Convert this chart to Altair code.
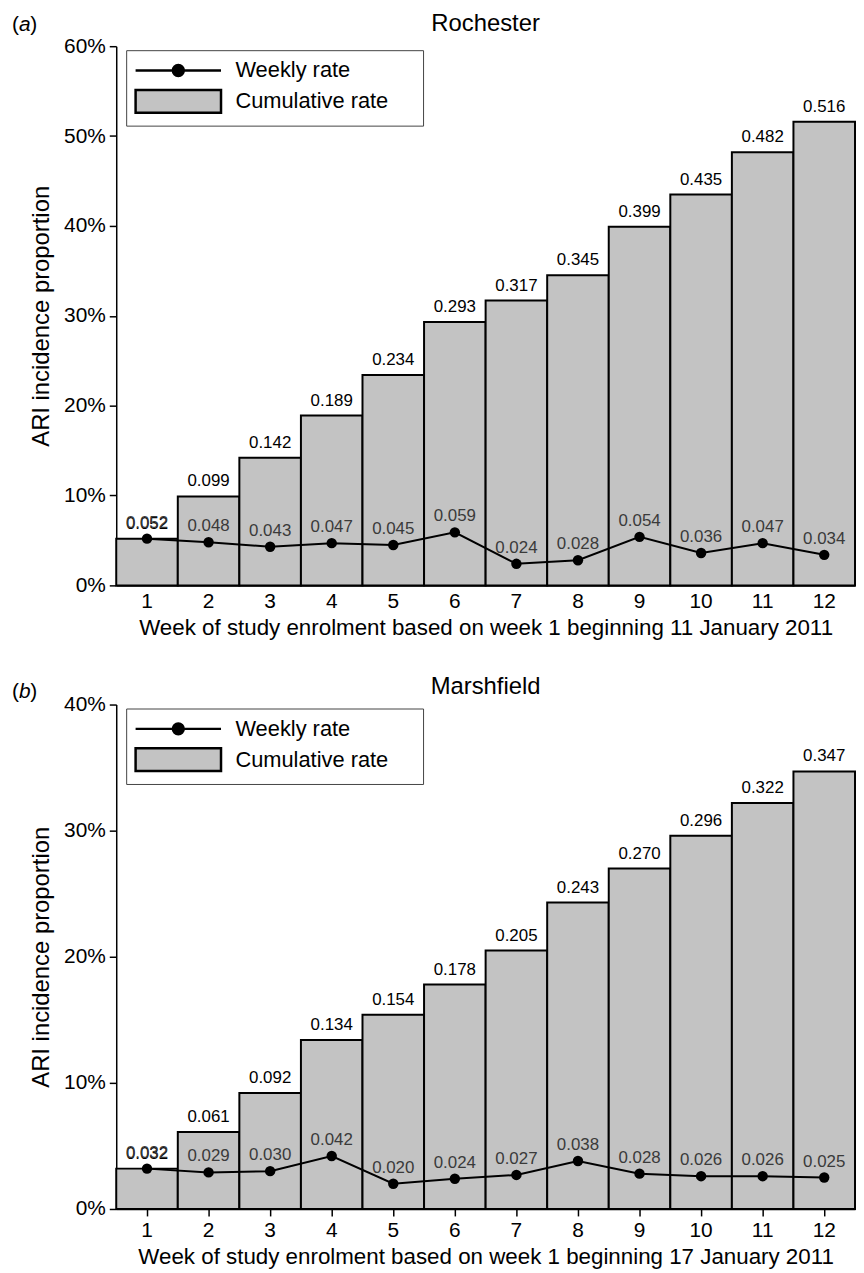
import altair as alt
import pandas as pd

weeks = list(range(1, 13))
roch_cum = [0.052, 0.099, 0.142, 0.189, 0.234, 0.293, 0.317, 0.345, 0.399, 0.435, 0.482, 0.516]
roch_week = [0.052, 0.048, 0.043, 0.047, 0.045, 0.059, 0.024, 0.028, 0.054, 0.036, 0.047, 0.034]
marsh_cum = [0.032, 0.061, 0.092, 0.134, 0.154, 0.178, 0.205, 0.243, 0.270, 0.296, 0.322, 0.347]
marsh_week = [0.032, 0.029, 0.030, 0.042, 0.020, 0.024, 0.027, 0.038, 0.028, 0.026, 0.026, 0.025]
series = ["Weekly rate", "Cumulative rate"]
roch_ticks = [0, 0.1, 0.2, 0.3, 0.4, 0.5, 0.6]
marsh_ticks = [0, 0.1, 0.2, 0.3, 0.4]

FONT = "Liberation Sans"
YTITLE = "ARI incidence proportion"
WIDTH = 744

# legend symbol paths (units of 11px); the zero-length tail widens the legend box
TAIL = " M24.1,0 L24.1,0"
PATH_LINE = ("M-1,0 L6.82,0 M2.41,0 A0.5,0.5 0 1,1 3.41,0 "
             "A0.5,0.5 0 1,1 2.41,0 Z" + TAIL)
PATH_RECT = "M-1,-1.045 L6.82,-1.045 L6.82,1.045 L-1,1.045 Z" + TAIL


def panel(cum, wk, ticks, title, title_dy, letter, letter_dy, xtitle, height, xticks):
    df = pd.DataFrame({"week": weeks, "cum": cum, "weekly": wk})
    ymax = ticks[-1]
    x = alt.X("week:O", title=xtitle,
              scale=alt.Scale(paddingInner=0, paddingOuter=0),
              axis=alt.Axis(labelAngle=0, ticks=xticks, labelPadding=4 if xticks else 5))
    yscale = alt.Scale(domain=[0, ymax], nice=False)
    yaxis = alt.Axis(format=".0%", values=ticks)

    def Y(field):
        return alt.Y(f"{field}:Q", title=YTITLE, scale=yscale, axis=yaxis)

    base = alt.Chart(df)
    bars = base.mark_bar(fill="#c3c3c3", stroke="black", strokeWidth=2).encode(x=x, y=Y("cum"))
    cum_lab = base.mark_text(dy=-15, fontSize=17, font=FONT, color="black").encode(
        x=x, y=Y("cum"), text=alt.Text("cum:Q", format=".3f"))
    line = base.mark_line(color="black", strokeWidth=2).encode(x=x, y=Y("weekly"))
    pts = base.mark_circle(size=110, color="black", opacity=1).encode(x=x, y=Y("weekly"))
    wk_lab = base.mark_text(dy=-16, fontSize=17, font=FONT, color="#3a3a3a").encode(
        x=x, y=Y("weekly"), text=alt.Text("weekly:Q", format=".3f"))

    leg_df = pd.DataFrame({"series": series, "week": [1, 1], "zero": [0, 0]})
    leg = alt.Legend(title=None, orient="none", legendX=10, legendY=4, padding=8,
                     strokeColor="#444", fillColor="white",
                     symbolSize=484, symbolStrokeWidth=2.5,
                     symbolOpacity=1, labelOffset=77, labelFontSize=22, labelFont=FONT,
                     labelColor="black", rowPadding=3, labelLimit=400)
    dummy = alt.Chart(leg_df).mark_point(filled=True, opacity=0, strokeWidth=2.5).encode(
        x=x, y=Y("zero"),
        shape=alt.Shape("series:N", scale=alt.Scale(domain=series, range=[PATH_LINE, PATH_RECT]), legend=leg),
        fill=alt.Fill("series:N", scale=alt.Scale(domain=series, range=["black", "#c3c3c3"]), legend=leg),
        stroke=alt.Stroke("series:N", scale=alt.Scale(domain=series, range=["black", "black"]), legend=leg),
    )

    lt = pd.DataFrame({"t": [0]})
    ttl = alt.Chart(lt).mark_text(text=title, align="center", baseline="middle", fontSize=24, font=FONT,
                                  color="black").encode(x=alt.value(WIDTH / 2), y=alt.value(title_dy))
    p1 = alt.Chart(lt).mark_text(text="(", align="left", baseline="middle", fontSize=21, font=FONT,
                                 color="black").encode(x=alt.value(-105), y=alt.value(letter_dy))
    p2 = alt.Chart(lt).mark_text(text=letter, align="left", baseline="middle", fontSize=21, font=FONT,
                                 fontStyle="italic", color="black").encode(x=alt.value(-98), y=alt.value(letter_dy))
    p3 = alt.Chart(lt).mark_text(text=")", align="left", baseline="middle", fontSize=21, font=FONT,
                                 color="black").encode(x=alt.value(-86.5), y=alt.value(letter_dy))

    return alt.layer(bars, cum_lab, line, pts, wk_lab, dummy, ttl, p1, p2, p3).properties(
        width=WIDTH, height=height,
    )


top = panel(roch_cum, roch_week, roch_ticks, "Rochester", -22, "a", -21,
            "Week of study enrolment based on week 1 beginning 11 January 2011", 543, False)
bottom = panel(marsh_cum, marsh_week, marsh_ticks, "Marshfield", -18, "b", -13,
               "Week of study enrolment based on week 1 beginning 17 January 2011", 508, True)

chart = alt.vconcat(top, bottom, spacing=36).resolve_scale(
    shape="independent", fill="independent", stroke="independent", x="independent", y="independent"
).resolve_legend(shape="independent", fill="independent", stroke="independent").properties(
    padding={"left": 4, "top": 0, "right": 0, "bottom": 0}
).configure_view(stroke=None).configure_axis(
    labelFont=FONT, titleFont=FONT, labelFontSize=21, titleFontSize=22.5,
    labelColor="black", titleColor="black", domainColor="black", tickColor="black",
    domainWidth=1.5, tickWidth=1.5, tickSize=7, grid=False,
    titleFontWeight="normal",
).configure_axisY(titlePadding=10, titleFontSize=24, labelPadding=4).configure_axisX(titlePadding=5)

chart.save("out.html", embed_options={"renderer": "svg", "actions": False})
